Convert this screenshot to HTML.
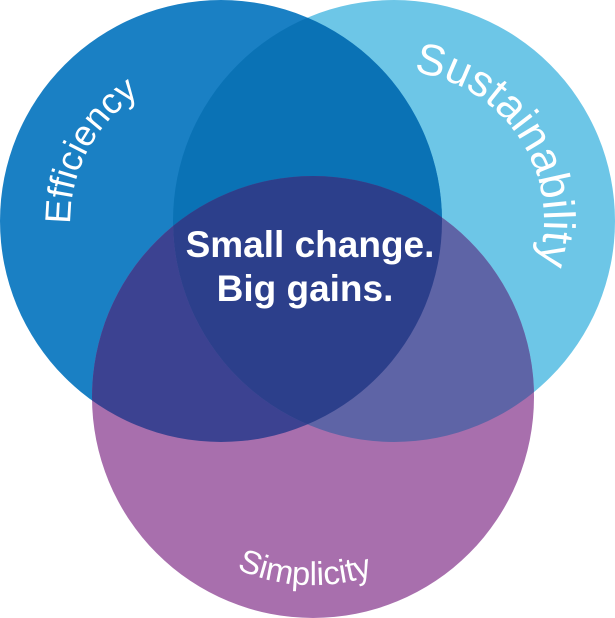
<!DOCTYPE html>
<html><head><style>body{margin:0;background:#fff}svg{display:block}</style></head>
<body>
<svg width="615" height="618" viewBox="0 0 615 618" xmlns="http://www.w3.org/2000/svg" font-family="Liberation Sans, sans-serif">
<defs>
<clipPath id="c1"><circle cx="221" cy="221" r="221"/></clipPath>
<clipPath id="c2"><circle cx="394" cy="221" r="221"/></clipPath>
<clipPath id="c3"><circle cx="313" cy="397" r="221"/></clipPath>
<path id="pe" d="M 112.6 325.2 A 150 150 0 0 1 262.3 76.8"/>
<path id="ps" d="M 342.7 80.0 A 150 150 0 0 1 501.9 325.2"/>
<path id="pp" d="M 180 530 A 188 188 0 0 0 446 530" />
</defs>
<circle cx="394" cy="221" r="221" fill="#6dc6e7"/>
<circle cx="221" cy="221" r="221" fill="#1a80c4"/>
<circle cx="313" cy="397" r="221" fill="#a86fad"/>
<g clip-path="url(#c1)"><circle cx="394" cy="221" r="221" fill="#0a72b5"/></g>
<g clip-path="url(#c1)"><circle cx="313" cy="397" r="221" fill="#3c4291"/></g>
<g clip-path="url(#c2)"><circle cx="313" cy="397" r="221" fill="#5e64a6"/></g>
<g clip-path="url(#c1)"><g clip-path="url(#c2)"><circle cx="313" cy="397" r="221" fill="#2c3f8b"/></g></g>
<text fill="#fff" font-size="36"><textPath href="#pe" startOffset="48%" text-anchor="middle">Efficiency</textPath></text>
<text fill="#fff" font-size="44"><textPath href="#ps" startOffset="50%" text-anchor="middle">Sustainability</textPath></text>
<text fill="#fff" font-size="33"><textPath href="#pp" startOffset="47%" text-anchor="middle">Simplicity</textPath></text>
<text x="310" y="257" fill="#fff" font-size="37" font-weight="bold" text-anchor="middle">Small change.</text>
<text x="305" y="301" fill="#fff" font-size="37" font-weight="bold" text-anchor="middle">Big gains.</text>
</svg>
</body></html>
